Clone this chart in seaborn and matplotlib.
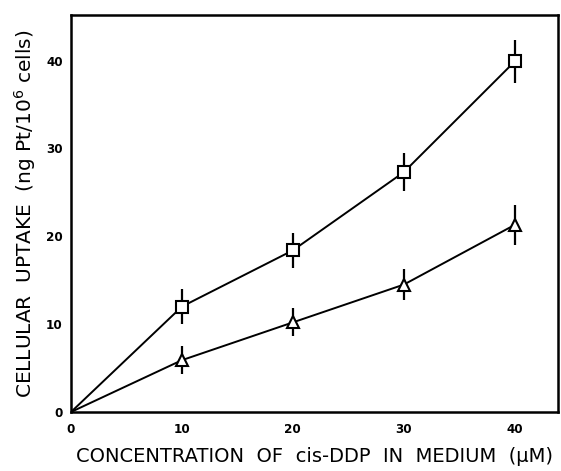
import matplotlib
matplotlib.use("Agg")
import matplotlib.pyplot as plt
import seaborn as sns
import pandas as pd
import numpy as np

conc = [0, 10, 20, 30, 40]
square_vals = [0, 12.0, 18.4, 27.3, 39.9]
square_err = [0, 2.0, 2.0, 2.2, 2.5]
tri_vals = [0, 5.9, 10.2, 14.5, 21.3]
tri_err = [0, 1.6, 1.6, 1.8, 2.3]
xticks = [0, 10, 20, 30, 40]
yticks = [0, 10, 20, 30, 40]

sns.set_theme(style="white")
plt.rcParams['font.family'] = ['DejaVu Sans']
plt.rcParams['text.color'] = 'black'
plt.rcParams['axes.labelcolor'] = 'black'
plt.rcParams['xtick.color'] = 'black'
plt.rcParams['ytick.color'] = 'black'

df = pd.DataFrame({
    "conc": conc * 2,
    "uptake": square_vals + tri_vals,
    "series": ["square"] * 5 + ["triangle"] * 5,
})

fig = plt.figure(figsize=(5.61, 4.71), dpi=100)
ax = fig.add_axes([0.1266, 0.1253, 0.868, 0.843])

sns.lineplot(data=df, x="conc", y="uptake", hue="series", palette=["black", "black"],
             linewidth=1.4, legend=False, ax=ax, zorder=2)

for vals, err, mk, ms in [(square_vals, square_err, "s", 8), (tri_vals, tri_err, "^", 8.5)]:
    ax.errorbar(conc[1:], vals[1:], yerr=err[1:], fmt="none", ecolor="black",
                elinewidth=1.6, capsize=0, zorder=3)
    ax.plot(conc[1:], vals[1:], linestyle="none", marker=mk, markersize=ms,
            markerfacecolor="white", markeredgecolor="black", markeredgewidth=1.5, zorder=4)

ax.set_xlim(0, 43.9)
ax.set_ylim(0, 45.2)
ax.set_xticks(xticks)
ax.set_yticks(yticks)
ax.set_xticklabels([str(t) for t in xticks], fontsize=9.5, fontweight="bold",
                   fontstretch="condensed", color="black")
ax.set_yticklabels([str(t) for t in yticks], fontsize=9.5, fontweight="bold",
                   fontstretch="condensed", color="black")
ax.tick_params(axis="both", direction="in", length=7, width=1.5, color="black", pad=6)
ax.tick_params(axis="x", pad=8)
for s in ax.spines.values():
    s.set_color("black")
    s.set_linewidth(1.8)

ax.set_xlabel("CONCENTRATION  OF  cis-DDP  IN  MEDIUM  (\u03bcM)", fontsize=14,
              labelpad=8, color="black")
ax.set_ylabel("CELLULAR  UPTAKE  (ng Pt/10$^6$ cells)", fontsize=14.5,
              labelpad=6, color="black")

fig.savefig("out.png", dpi=100, facecolor="white")
